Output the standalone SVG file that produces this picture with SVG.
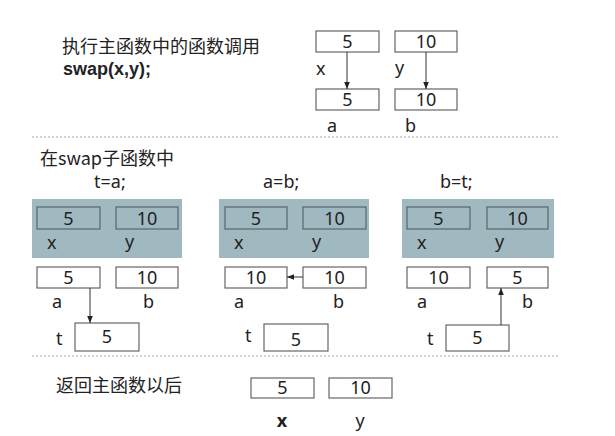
<svg xmlns="http://www.w3.org/2000/svg" width="615" height="436" viewBox="0 0 615 436">
<defs>
<style>
.t{font-family:"Noto Sans","DejaVu Sans","Noto Sans CJK SC",sans-serif;font-size:18px;fill:#222}
.c{text-anchor:middle}
.cn{font-family:"Noto Sans CJK SC","Noto Sans",sans-serif;font-size:18px;fill:#222}
.code{font-family:"Liberation Sans",Arial,sans-serif;font-size:18px;font-weight:bold;fill:#222}
.box{fill:#fff;stroke:#666;stroke-width:1.2}
.ibox{fill:none;stroke:#55666c;stroke-width:1.2}
.panel{fill:#a0b9c1}
.dash{stroke:#aaa;stroke-width:1.2;stroke-dasharray:2 2}
.ln{stroke:#333;stroke-width:1;fill:none}
</style>
<marker id="ah" viewBox="0 0 10 10" refX="10" refY="5" markerWidth="7" markerHeight="7" orient="auto" markerUnits="userSpaceOnUse">
<path d="M0,1 L10,5 L0,9 Z" fill="#222"/>
</marker>
</defs>
<rect width="615" height="436" fill="#fff"/>

<line class="dash" x1="32" y1="137" x2="560" y2="137"/>
<line class="dash" x1="32" y1="356" x2="560" y2="356"/>

<g id="title1">
<text class="cn" x="62" y="53">执行主函数中的函数调用</text>
<text class="code" x="63" y="75">swap(x,y);</text>
</g>
<g id="main-x"><rect class="box" x="316" y="31" width="63" height="21"/><text class="t c" x="347.5" y="48">5</text><text class="t" x="316" y="75">x</text></g>
<g id="main-y"><rect class="box" x="395" y="31" width="62" height="21"/><text class="t c" x="426" y="48">10</text><text class="t" x="395" y="74">y</text></g>
<g id="param-a"><rect class="box" x="316" y="89" width="63" height="21"/><text class="t c" x="347.5" y="106">5</text><text class="t" x="327" y="132">a</text></g>
<g id="param-b"><rect class="box" x="395" y="89" width="62" height="21"/><text class="t c" x="426" y="106">10</text><text class="t" x="405" y="132">b</text></g>

<g id="title2">
<text class="cn" x="40" y="165">在swap子函数中</text>
<text class="t" x="94" y="188">t=a;</text>
<text class="t" x="263" y="188">a=b;</text>
<text class="t" x="440" y="188">b=t;</text>
</g>

<g id="step1">
<rect class="panel" x="32" y="199" width="150" height="59"/>
<rect class="ibox" x="37" y="207" width="63" height="22"/><text class="t c" x="68.5" y="225">5</text>
<rect class="ibox" x="116" y="207" width="62" height="22"/><text class="t c" x="147" y="225">10</text>
<text class="t" x="47" y="249">x</text><text class="t" x="125" y="248">y</text>
<rect class="box" x="37" y="267" width="63" height="21"/><text class="t c" x="68.5" y="284">5</text>
<rect class="box" x="116" y="267" width="62" height="21"/><text class="t c" x="147" y="284">10</text>
<text class="t" x="52" y="308">a</text><text class="t" x="143" y="308">b</text>
<rect class="box" x="75" y="323" width="64" height="28"/><text class="t c" x="107" y="343">5</text>
<text class="t" x="56" y="345">t</text>
</g>

<g id="step2">
<rect class="panel" x="219" y="199" width="150" height="59"/>
<rect class="ibox" x="225" y="207" width="62" height="22"/><text class="t c" x="256" y="225">5</text>
<rect class="ibox" x="303" y="207" width="63" height="22"/><text class="t c" x="334.5" y="225">10</text>
<text class="t" x="234" y="249">x</text><text class="t" x="312" y="248">y</text>
<rect class="box" x="225" y="267" width="62" height="21"/><text class="t c" x="256" y="284">10</text>
<rect class="box" x="303" y="267" width="63" height="21"/><text class="t c" x="334.5" y="284">10</text>
<text class="t" x="234" y="308">a</text><text class="t" x="333" y="308">b</text>
<rect class="box" x="264" y="324" width="64" height="27"/><text class="t c" x="296" y="346">5</text>
<text class="t" x="245" y="342">t</text>
</g>

<g id="step3">
<rect class="panel" x="402" y="199" width="152" height="59"/>
<rect class="ibox" x="407" y="207" width="63" height="22"/><text class="t c" x="438.5" y="225">5</text>
<rect class="ibox" x="487" y="207" width="61" height="22"/><text class="t c" x="517.5" y="225">10</text>
<text class="t" x="417" y="249">x</text><text class="t" x="495" y="248">y</text>
<rect class="box" x="407" y="267" width="63" height="21"/><text class="t c" x="438.5" y="284">10</text>
<rect class="box" x="487" y="267" width="61" height="21"/><text class="t c" x="517.5" y="284">5</text>
<text class="t" x="417" y="308">a</text><text class="t" x="522" y="308">b</text>
<rect class="box" x="446" y="325" width="63" height="26"/><text class="t c" x="477.5" y="344">5</text>
<text class="t" x="427" y="345">t</text>
</g>

<g id="result">
<text class="cn" x="56" y="392">返回主函数以后</text>
<rect class="box" x="251" y="378" width="63" height="20"/><text class="t c" x="282.5" y="394">5</text>
<rect class="box" x="329" y="378" width="63" height="20"/><text class="t c" x="360.5" y="394">10</text>
<text class="t c" x="282" y="427" font-weight="bold">x</text>
<text class="t c" x="360" y="427">y</text>
</g>

<g id="connectors">
<line class="ln" x1="347" y1="52" x2="347" y2="89" marker-end="url(#ah)"/>
<line class="ln" x1="426" y1="52" x2="426" y2="89" marker-end="url(#ah)"/>
<line class="ln" x1="90" y1="288" x2="90" y2="323" marker-end="url(#ah)"/>
<line class="ln" x1="303" y1="277" x2="287" y2="277" marker-end="url(#ah)"/>
<line class="ln" x1="501" y1="325" x2="501" y2="288" marker-end="url(#ah)"/>
</g>
</svg>
